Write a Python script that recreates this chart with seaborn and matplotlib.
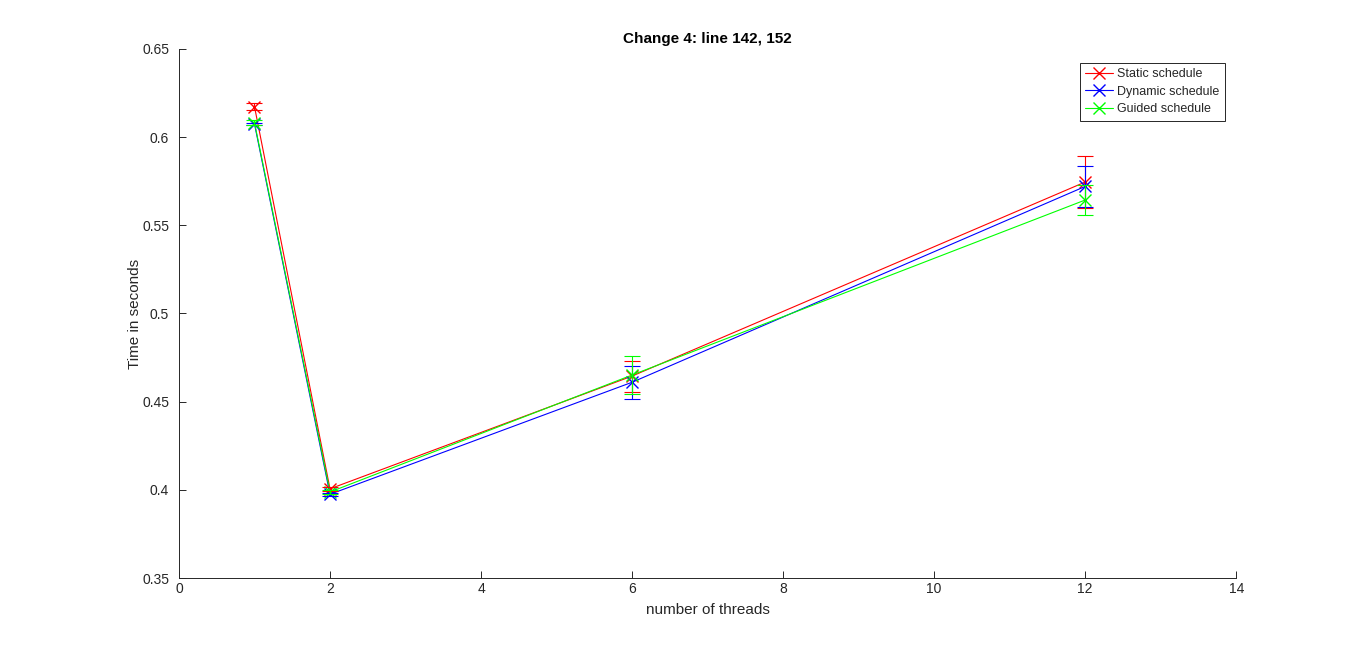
import matplotlib
matplotlib.use('Agg')
import matplotlib.pyplot as plt
import seaborn as sns
import pandas as pd

# values
threads = [1, 2, 6, 12]
static_mean = [0.6173, 0.4006, 0.4645, 0.5745]
static_err = [0.0020, 0.0010, 0.0088, 0.0150]
dynamic_mean = [0.6075, 0.3975, 0.4610, 0.5720]
dynamic_err = [0.0005, 0.0008, 0.0095, 0.0117]
guided_mean = [0.6082, 0.3988, 0.4651, 0.5643]
guided_err = [0.0014, 0.0014, 0.0107, 0.0086]

series = ['Static schedule', 'Dynamic schedule', 'Guided schedule']
colors = ['#ff0000', '#0000ff', '#00ff00']

rows = []
for name, means in zip(series, [static_mean, dynamic_mean, guided_mean]):
  for t, m in zip(threads, means):
    rows.append({'threads': t, 'time': m, 'schedule': name})
df = pd.DataFrame(rows)

sns.set_style('ticks')
plt.rcParams['font.family'] = ['Liberation Sans', 'DejaVu Sans']

fig = plt.figure(figsize=(13.66, 6.51), dpi=100)
ax = fig.add_axes([0.131, 0.112, 0.774, 0.813])

sns.lineplot(data=df, x='threads', y='time', hue='schedule', hue_order=series,
             palette=colors, marker='x', markersize=9, markeredgewidth=1.0,
             linewidth=0.8, ax=ax, legend=True)
# seaborn paints marker edges white, give the crosses their line colour back
for ln in ax.lines:
  ln.set_markeredgecolor(ln.get_color())

for name, means, errs, c in zip(series, [static_mean, dynamic_mean, guided_mean],
                                [static_err, dynamic_err, guided_err], colors):
  ax.errorbar(threads, means, yerr=errs, fmt='none', ecolor=c, elinewidth=0.8,
              capsize=5.8, capthick=0.8)

ax.set_xlim(0, 14)
ax.set_ylim(0.35, 0.65)
ax.set_xticks(range(0, 15, 2))
yt = [0.35, 0.4, 0.45, 0.5, 0.55, 0.6, 0.65]
ax.set_yticks(yt)
ax.set_yticklabels([f'{v:g}' for v in yt])
ax.tick_params(direction='in', length=5, width=0.7, labelsize=10, colors='#262626')
ax.tick_params(axis='y', pad=7)
ax.tick_params(axis='x', pad=3)
for s in ['top', 'right']:
  ax.spines[s].set_visible(False)
for s in ['left', 'bottom']:
  ax.spines[s].set_color('#262626')
  ax.spines[s].set_linewidth(0.7)

ax.set_xlabel('number of threads', fontsize=11, color='#262626', labelpad=5)
ax.set_ylabel('Time in seconds', fontsize=11, color='#262626', labelpad=0)
ax.set_title('Change 4: line 142, 152', fontsize=11, fontweight='bold', color='black', pad=4)

handles, labels = ax.get_legend_handles_labels()
for h in handles:
  h.set_markeredgecolor(h.get_color())
  h.set_marker('x')
  h.set_markersize(9)
leg = ax.legend(handles, labels, loc='upper right', bbox_to_anchor=(0.989, 0.974), fontsize=9,
                frameon=True, fancybox=False, edgecolor='#262626', framealpha=1,
                handlelength=2.2, borderpad=0.45, labelspacing=0.45, handletextpad=0.3,
                borderaxespad=0.0)
leg.get_frame().set_linewidth(0.7)

fig.savefig('out.png', dpi=100)
